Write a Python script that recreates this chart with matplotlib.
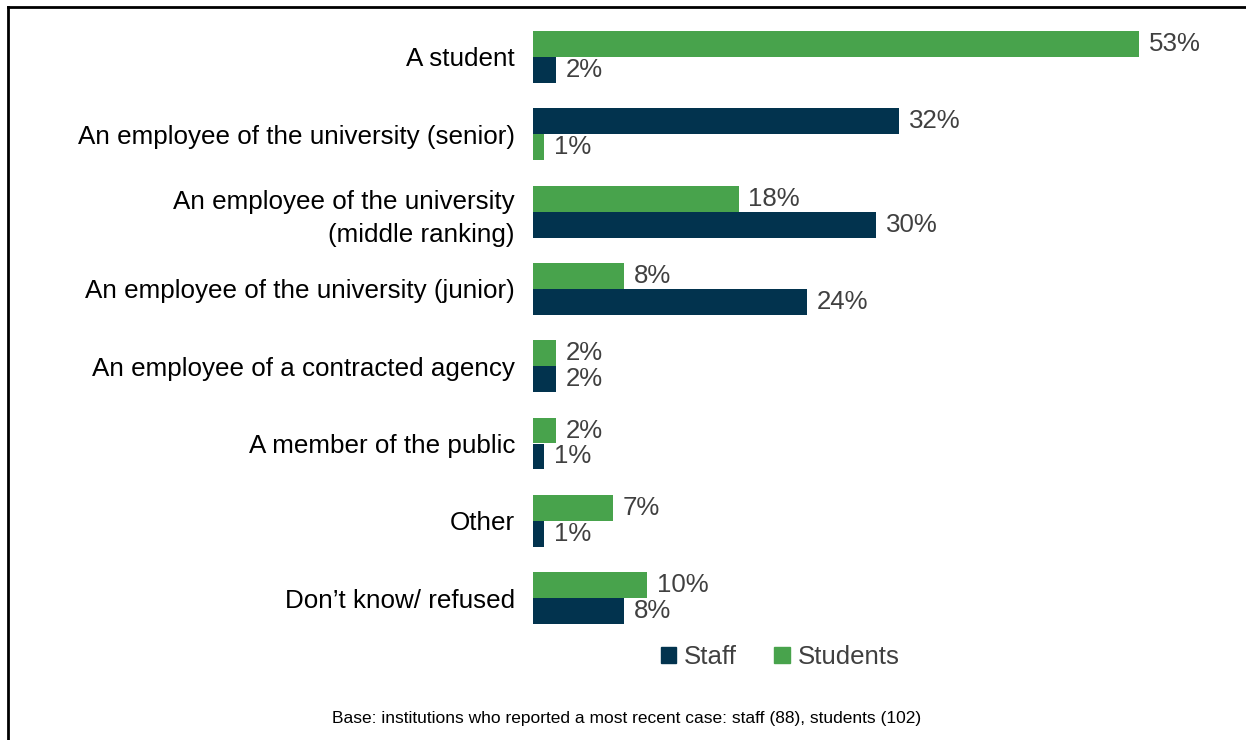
import numpy as np
import matplotlib.pyplot as plt
from matplotlib.patches import Patch
from matplotlib.lines import Line2D

plt.rcParams['font.family'] = ['Liberation Sans', 'DejaVu Sans']

categories = ['A student',
              'An employee of the university (senior)',
              'An employee of the university\n(middle ranking)',
              'An employee of the university (junior)',
              'An employee of a contracted agency',
              'A member of the public',
              'Other',
              'Don\u2019t know/ refused']
staff = [2, 32, 30, 24, 2, 1, 1, 8]
students = [53, 1, 18, 8, 2, 2, 7, 10]
# rows where the staff bar sits above the students bar
staff_on_top = [False, True, False, False, False, False, False, False]

NAVY = '#02334E'
GREEN = '#48A34C'
TXT = '#404040'

fig = plt.figure(figsize=(12.46, 7.40), dpi=100)
W, H = 1246, 740
# axes placed in pixel terms
left, right = 533, 533 + 60 * 11.43
top, bottom = 18.35, 636.75
ax = fig.add_axes([left / W, 1 - bottom / H, (right - left) / W, (bottom - top) / H])

y = np.arange(len(categories))
h = 0.336
for i in y:
    off = -h / 2 if staff_on_top[i] else h / 2
    ax.barh(i + off, staff[i], height=h, color=NAVY)
    ax.barh(i - off, students[i], height=h, color=GREEN)
    ax.text(staff[i] + 0.85, i + off, '{}%'.format(staff[i]), va='center', ha='left',
            fontsize=18.6, color=TXT)
    ax.text(students[i] + 0.85, i - off, '{}%'.format(students[i]), va='center', ha='left',
            fontsize=18.6, color=TXT)

ax.set_xlim(0, 60)
ax.set_ylim(len(categories) - 0.5, -0.5)
ax.set_yticks(y)
ax.set_yticklabels(categories, fontsize=18.7, color='black', ha='right', linespacing=1.45)
ax.tick_params(axis='y', length=0, pad=13)
ax.set_xticks([])
for s in ax.spines.values():
    s.set_visible(False)

handles = [Patch(color=NAVY, label='Staff'), Patch(color=GREEN, label='Students')]
leg = fig.legend(handles=handles, loc='center', bbox_to_anchor=(780 / W, 1 - 657 / H),
                 ncol=2, frameon=False, fontsize=18.6, handlelength=0.6, handleheight=0.6,
                 handletextpad=0.3, columnspacing=1.45)
for t in leg.get_texts():
    t.set_color(TXT)

fig.text(627 / W, 1 - 718 / H,
         'Base: institutions who reported a most recent case: staff (88), students (102)',
         ha='center', va='center', fontsize=12.5, color='black')

# frame lines on the left and top
fig.add_artist(Line2D([8 / W, 8 / W], [0, 1 - 7 / H], color='black', lw=2,
                      transform=fig.transFigure))
fig.add_artist(Line2D([8 / W, 1], [1 - 7 / H, 1 - 7 / H], color='black', lw=2,
                      transform=fig.transFigure))

fig.savefig('out.png', dpi=100)
